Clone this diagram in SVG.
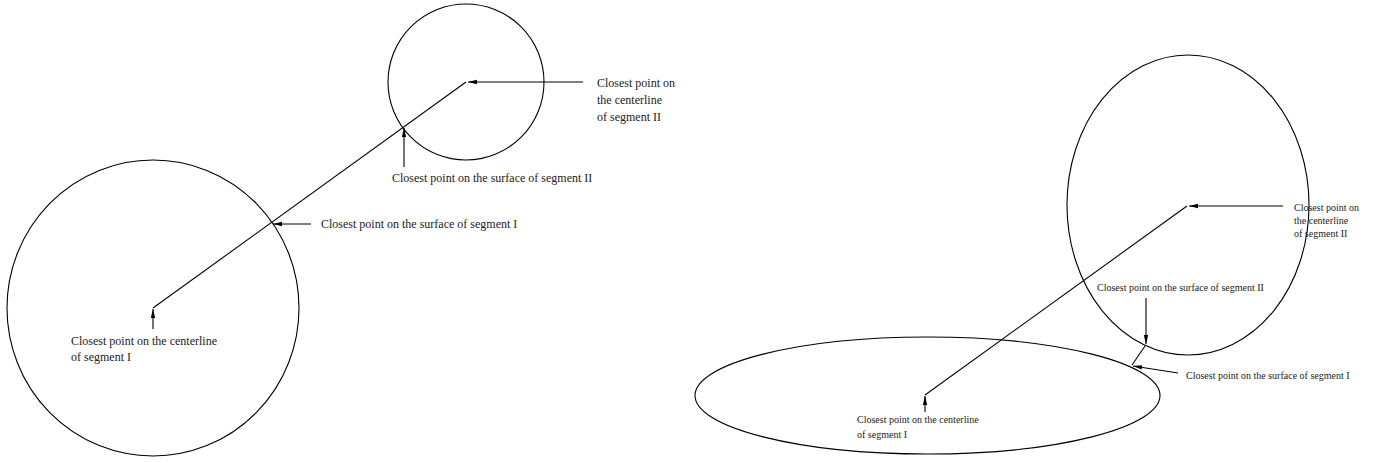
<svg xmlns="http://www.w3.org/2000/svg" width="1376" height="463" viewBox="0 0 1376 463">
<style>
.s{fill:none;stroke:#000;stroke-width:1.1}
.t{font-family:"Liberation Serif",serif;font-size:12px;fill:#222}
.u{font-family:"Liberation Serif",serif;font-size:10px;fill:#222}
</style>
<defs>
<marker id="a" markerWidth="10" markerHeight="6" refX="9" refY="3" orient="auto" markerUnits="userSpaceOnUse">
<path d="M0,0.8 L9,3 L0,5.2 Z" fill="#000"/>
</marker>
</defs>
<rect width="1376" height="463" fill="#fff"/>
<g id="seg1-left"><ellipse class="s" cx="153" cy="308" rx="146" ry="148"/></g>
<g id="seg2-left"><ellipse class="s" cx="466" cy="82" rx="78" ry="78"/></g>
<g id="seg2-right"><ellipse class="s" cx="1188" cy="205" rx="121" ry="150"/></g>
<g id="seg1-right"><ellipse class="s" cx="927.5" cy="395.5" rx="232.5" ry="58.5"/></g>
<g id="connectors">
<line class="s" x1="153" y1="308" x2="466" y2="82"/>
<line class="s" x1="583" y1="82" x2="468" y2="82" marker-end="url(#a)"/>
<line class="s" x1="404" y1="167" x2="404" y2="128" marker-end="url(#a)"/>
<line class="s" x1="311" y1="224" x2="273" y2="224" marker-end="url(#a)"/>
<line class="s" x1="153" y1="329" x2="153" y2="309" marker-end="url(#a)"/>
<line class="s" x1="925" y1="395" x2="1187" y2="206"/>
<line class="s" x1="1283" y1="206" x2="1189" y2="206" marker-end="url(#a)"/>
<line class="s" x1="1146" y1="298" x2="1146" y2="344" marker-end="url(#a)"/>
<line class="s" x1="1145" y1="346" x2="1132" y2="365"/>
<line class="s" x1="1178" y1="373" x2="1133" y2="366" marker-end="url(#a)"/>
<line class="s" x1="925" y1="412" x2="925" y2="396" marker-end="url(#a)"/>
</g>
<g id="labels">
<text class="t" x="597" y="87">Closest point on</text>
<text class="t" x="597" y="104">the centerline</text>
<text class="t" x="597" y="121">of segment II</text>
<text class="t" x="392" y="182">Closest point on the surface of segment II</text>
<text class="t" x="321" y="228">Closest point on the surface of segment I</text>
<text class="t" x="71" y="345">Closest point on the centerline</text>
<text class="t" x="71" y="361">of segment I</text>
<text class="u" x="1294" y="211">Closest point on</text>
<text class="u" x="1294" y="224">the centerline</text>
<text class="u" x="1294" y="237">of segment II</text>
<text class="u" x="1097" y="291">Closest point on the surface of segment II</text>
<text class="u" x="1186" y="379">Closest point on the surface of segment I</text>
<text class="u" x="857" y="423">Closest point on the centerline</text>
<text class="u" x="857" y="438">of segment I</text>
</g>
</svg>
